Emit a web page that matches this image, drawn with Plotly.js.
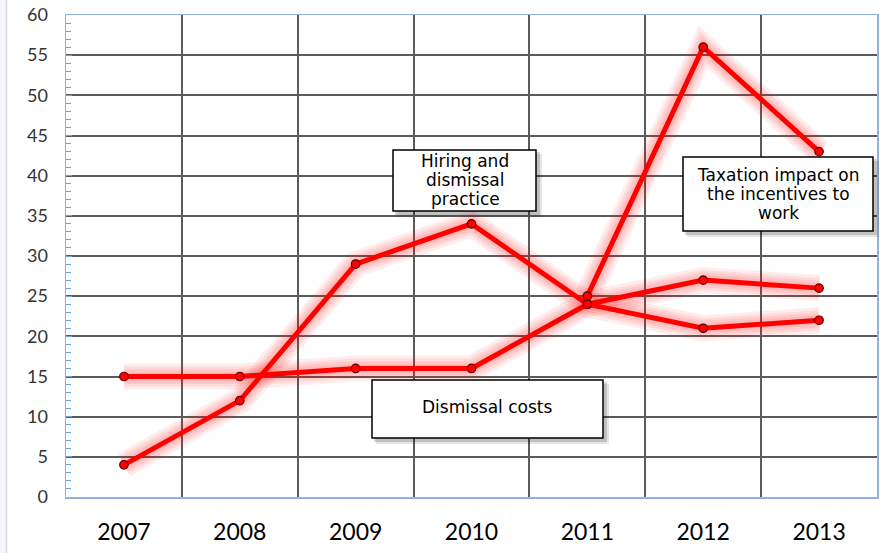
<!DOCTYPE html>
<html>
<head>
<meta charset="utf-8">
<script src="https://cdn.plot.ly/plotly-3.0.1.min.js"></script>
<style>
html,body{margin:0;padding:0;background:#fff;}
#chart{width:881px;height:553px;}
</style>
</head>
<body>
<div id="chart"></div>
<script>
// ---- data ----
const years = ["2007", "2008", "2009", "2010", "2011", "2012", "2013"];
const hiringDismissal = [4, 12, 29, 34, 24, 21, 22];
const dismissalCosts = [15, 15, 16, 16, 24, 27, 26];
const taxationImpact = [null, null, null, null, 25, 56, 43];
const labelHiring = ["Hiring and", "dismissal", "practice"];
const labelTaxation = ["Taxation impact on", "the incentives to", "work"];
const labelDismissal = ["Dismissal costs"];
const yTickVals = [0, 5, 10, 15, 20, 25, 30, 35, 40, 45, 50, 55, 60];

// ---- layout helpers (pixel -> paper) ----
const W = 881, H = 553;
const M = {l: 66, r: 4, t: 15, b: 56};
const PW = W - M.l - M.r, PH = H - M.t - M.b;
const px = x => (x - M.l) / PW;
const py = y => (H - M.b - y) / PH;

const series = [hiringDismissal, dismissalCosts, taxationImpact];
const traces = [];
// soft glow underlays
const glowWidths = [26, 20, 15, 10];
series.forEach(s => {
  glowWidths.forEach(w => {
    traces.push({x: years, y: s, type: 'scatter', mode: 'lines', hoverinfo: 'skip', showlegend: false,
      line: {color: 'rgba(255,0,0,0.075)', width: w}});
  });
});
series.forEach(s => {
  traces.push({x: years, y: s, type: 'scatter', mode: 'lines+markers', showlegend: false,
    line: {color: '#ff0000', width: 5},
    marker: {symbol: 'circle', size: 8.5, color: '#ff0000', line: {color: '#5a0000', width: 1.2}}});
});

const shapes = [];
const annotations = [];
// left outer frame strip
shapes.push({type: 'rect', xref: 'paper', yref: 'paper', layer: 'below',
  x0: px(0), x1: px(6), y0: py(553), y1: py(0), fillcolor: '#f4f6f9', line: {width: 0}});
shapes.push({type: 'line', xref: 'paper', yref: 'paper', layer: 'above',
  x0: px(6.5), x1: px(6.5), y0: py(553), y1: py(0), line: {color: '#d5d9df', width: 1.5}});

function box(x0, y0, x1, y1) {
  shapes.push({type: 'rect', xref: 'paper', yref: 'paper', layer: 'above',
    x0: px(x0 + 4), x1: px(x1 + 6), y0: py(y1 + 6), y1: py(y0 + 4),
    fillcolor: 'rgba(0,0,0,0.10)', line: {width: 0}});
  shapes.push({type: 'rect', xref: 'paper', yref: 'paper', layer: 'above',
    x0: px(x0 + 2), x1: px(x1 + 4), y0: py(y1 + 4), y1: py(y0 + 2),
    fillcolor: 'rgba(0,0,0,0.16)', line: {width: 0}});
  shapes.push({type: 'rect', xref: 'paper', yref: 'paper', layer: 'above',
    x0: px(x0), x1: px(x1), y0: py(y1), y1: py(y0),
    fillcolor: '#ffffff', line: {color: '#000000', width: 1.5}});
}
function lines(texts, cx, cy0, step) {
  texts.forEach((t, i) => {
    annotations.push({xref: 'paper', yref: 'paper', x: px(cx), y: py(cy0 + i * step),
      xanchor: 'center', yanchor: 'middle', showarrow: false, text: t,
      font: {family: 'DejaVu Sans', size: 17, color: '#000'}});
  });
}
box(393, 150, 536, 211);
lines(labelHiring, 465, 161, 19);
box(683, 157, 873, 231);
lines(labelTaxation, 778, 175, 19);
box(372, 380, 603, 438);
lines(labelDismissal, 487, 407, 19);

const layout = {
  width: W, height: H,
  margin: M,
  paper_bgcolor: '#ffffff', plot_bgcolor: '#ffffff',
  showlegend: false,
  xaxis: {
    type: 'category', range: [-0.5, 6.5], tickson: 'boundaries',
    showgrid: true, gridcolor: '#5b5b5b', gridwidth: 2,
    showline: true, mirror: true, linecolor: '#8db3e2', linewidth: 1.5,
    ticks: '', ticklabelstandoff: 14,
    tickfont: {family: 'Lato', size: 23, color: '#000'}
  },
  yaxis: {
    range: [0, 60], tickvals: yTickVals, ticktext: yTickVals.map(String),
    showgrid: true, gridcolor: '#5b5b5b', gridwidth: 2, zeroline: false,
    showline: true, mirror: true, linecolor: '#8db3e2', linewidth: 1.5,
    ticks: 'inside', ticklen: 6, tickcolor: '#6fa0d8', tickwidth: 1,
    minor: {dtick: 1, ticks: 'inside', ticklen: 5, tickcolor: '#6fa0d8', showgrid: false},
    ticklabelstandoff: 13,
    tickfont: {family: 'Lato', size: 18, color: '#333'}
  },
  shapes: shapes,
  annotations: annotations
};
Plotly.newPlot('chart', traces, layout, {displayModeBar: false, staticPlot: true});
</script>
</body>
</html>
